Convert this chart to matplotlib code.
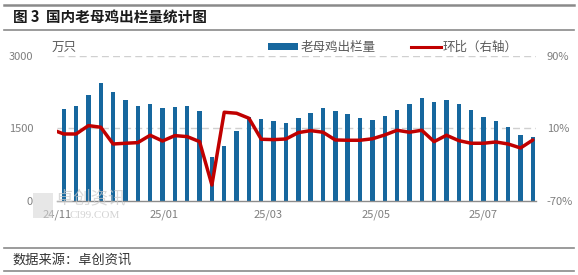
import matplotlib
matplotlib.use('Agg')
import matplotlib.pyplot as plt
from matplotlib.lines import Line2D
from matplotlib.patches import Patch, Rectangle
import pandas as pd

plt.rcParams['font.family'] = ['Noto Sans CJK SC', 'DejaVu Sans']

# ==========================================
# DATA
# ==========================================
dates = pd.date_range("2024-11-05", periods=39, freq="7D")
prev_date = pd.Timestamp("2024-10-29")   # previous week, only the tail of the line shows

# weekly culled-hen slaughter volume (万只)
volume = [1898, 1960, 2193, 2435, 2249, 2090, 1960, 2001, 1913, 1946,
          1960, 1857, 902, 1141, 1438, 1735, 1698, 1651, 1609, 1706,
          1822, 1913, 1857, 1789, 1719, 1677, 1754, 1884, 1995, 2131,
          2036, 2090, 2001, 1871, 1739, 1651, 1533, 1362, 1327]

# week-on-week change (%), right axis
prev_mom = 8.8
mom = [3.7, 3.7, 12.9, 11.1, -7.3, -6.5, -5.8, 2.3, -4.0, 1.9,
       0.8, -4.7, -52.4, 27.6, 26.5, 21.0, -2.1, -2.5, -1.8, 5.2,
       7.4, 5.6, -2.9, -3.2, -3.2, -1.6, 2.6, 7.8, 5.6, 7.8,
       -4.7, 2.3, -3.6, -6.5, -6.5, -5.1, -7.3, -11.7, -2.9]

tick_dates = ["2024-11-01", "2025-01-01", "2025-03-01", "2025-05-01", "2025-07-01"]
tick_labels = ["24/11", "25/01", "25/03", "25/05", "25/07"]

BAR_COLOR = "#16679e"
LINE_COLOR = "#c00000"
TICK_COLOR = "#7f7f7f"
TEXT_COLOR = "#595959"

W, H = 578, 275
fig = plt.figure(figsize=(W / 100, H / 100), dpi=100)
ax = fig.add_axes([56.7 / W, 1 - 201 / H, 478.8 / W, 145.5 / H])
ax2 = ax.twinx()

# bars
ax.bar(dates, volume, width=2.5, color=BAR_COLOR, zorder=2)
ax.set_ylim(0, 3000)
ax.set_yticks([0, 1500, 3000])
for y in [1500, 3000]:
    ax.axhline(y, color="#d0d0d0", lw=1.0, ls=(0, (5, 3)), zorder=1)

# line (right axis)
line_x = [prev_date] + list(dates)
line_y = [prev_mom] + mom
ax2.plot(line_x, line_y, color=LINE_COLOR, lw=2.5, solid_joinstyle='round',
         solid_capstyle='round', zorder=3)
ax2.set_ylim(-70, 90)
ax2.set_yticks([-70, 10, 90])
ax2.set_yticklabels(["-70%", "10%", "90%"])

ax.set_xlim(pd.Timestamp("2024-11-01 12:00"), pd.Timestamp("2025-07-30 12:00"))
ax.set_xticks(pd.to_datetime(tick_dates))
ax.set_xticklabels(tick_labels)

for a in (ax, ax2):
    for s in a.spines.values():
        s.set_visible(False)
    a.tick_params(length=0, labelsize=8, colors=TICK_COLOR)
ax.spines['bottom'].set_visible(True)
ax.spines['bottom'].set_color("#8c8c8c")
ax.spines['bottom'].set_linewidth(1.0)
ax.tick_params(axis='y', pad=17)
ax.tick_params(axis='x', pad=6)
ax2.tick_params(axis='y', pad=8)
ax.set_zorder(ax2.get_zorder() - 1)
ax2.patch.set_visible(False)

# unit label and legend
fig.text(51.7 / W, 1 - 48 / H, "万只", fontsize=9, color=TEXT_COLOR, va='center')
handles = [Patch(facecolor=BAR_COLOR, edgecolor='none', label="老母鸡出栏量"),
           Line2D([], [], color=LINE_COLOR, lw=2.2, label="环比（右轴）")]
fig.legend(handles=handles, loc='center left', bbox_to_anchor=(268 / W, 1 - 47.5 / H),
           ncol=2, frameon=False, fontsize=9, labelcolor=TEXT_COLOR,
           handlelength=2.4, handleheight=0.5, handletextpad=0.2,
           columnspacing=2.8, borderpad=0, borderaxespad=0)

# title, source and rules
fig.text(13 / W, 1 - 17 / H, "图 3  国内老母鸡出栏量统计图", fontsize=10.5,
         fontweight='bold', color="#1a1a1a", va='center')
fig.text(12 / W, 1 - 260.5 / H, "数据来源：卓创资讯", fontsize=9.5,
         color="#333333", va='center')
for y, lw in [(5, 1.8), (30, 1.2), (247.7, 1.2), (270.7, 1.2)]:
    fig.add_artist(Line2D([4 / W, 574 / W], [1 - y / H, 1 - y / H],
                          transform=fig.transFigure, color="#8a8a8a", lw=lw))

# watermark
fig.add_artist(Rectangle((33 / W, 1 - 218 / H), 20 / W, 25 / H,
                         transform=fig.transFigure, facecolor="#d8d8d8",
                         edgecolor='none', alpha=0.6, zorder=5))
fig.text(56 / W, 1 - 198.5 / H, "卓创资讯", fontsize=12.5, color="#c8c8c8",
         alpha=0.7, va='center', zorder=6)
fig.text(70 / W, 1 - 215 / H, "CI99.COM", fontsize=8, color="#c8c8c8",
         alpha=0.8, va='center', family='Liberation Serif', zorder=6)

fig.savefig("out.png", dpi=100)
